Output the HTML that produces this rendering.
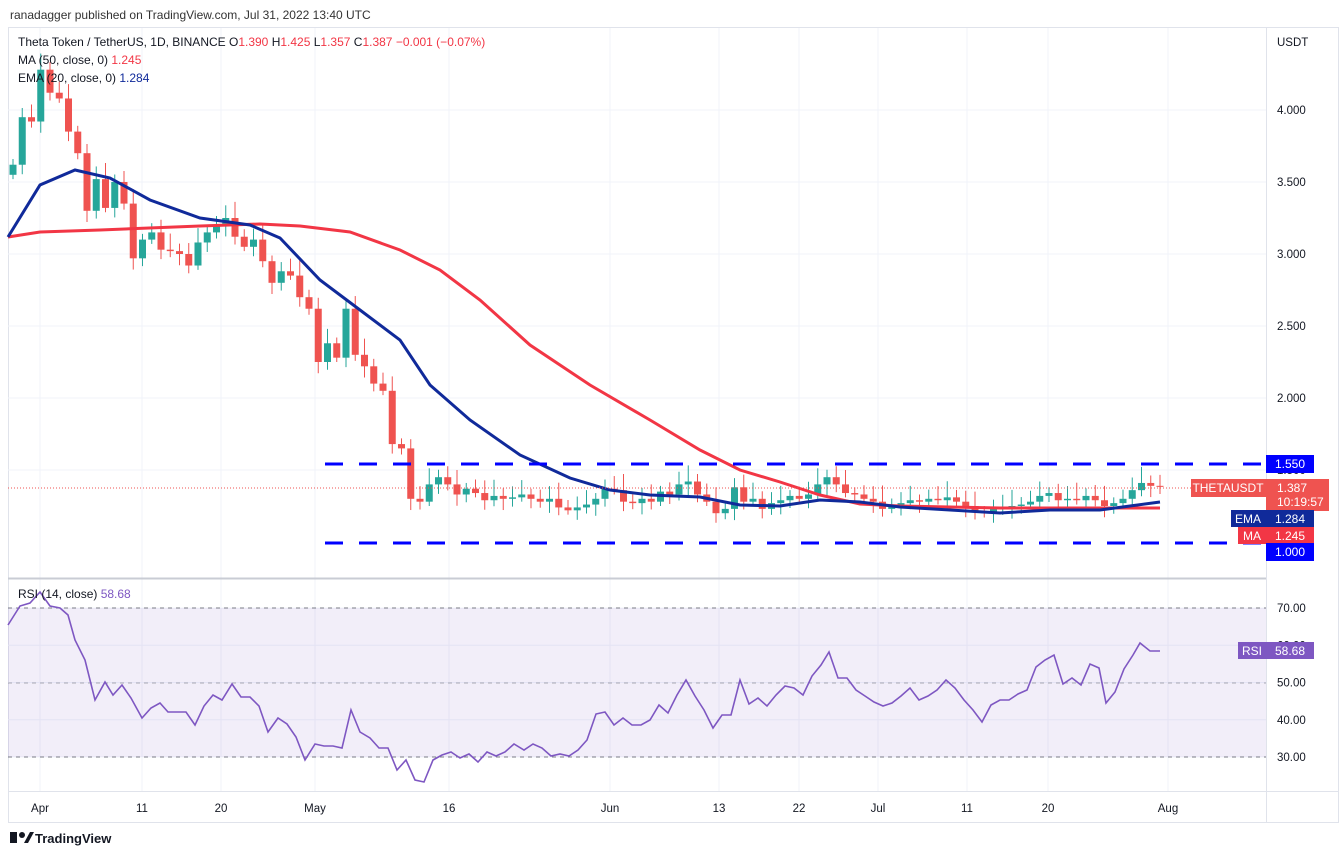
<!DOCTYPE html>
<html><head><meta charset="utf-8"><style>
body{margin:0;background:#fff;width:1344px;height:857px;overflow:hidden;font-family:"Liberation Sans",sans-serif}
svg text{font-family:"Liberation Sans",sans-serif}
</style></head><body>
<svg id="s" width="1344" height="857" xmlns="http://www.w3.org/2000/svg">
<rect x="0" y="0" width="1344" height="857" fill="#fff"/>
<text x="10" y="19" font-size="12" fill="#333">ranadagger published on TradingView.com, Jul 31, 2022 13:40 UTC</text>
<rect x="8.5" y="27.5" width="1330" height="795" fill="none" stroke="#e0e3eb"/>
<g id="grid"></g>
<rect x="8" y="608" width="1258" height="149" fill="#7e57c2" fill-opacity="0.1"/>
<line x1="8" x2="1266" y1="608" y2="608" stroke="#787b86" stroke-dasharray="4,4"/>
<line x1="8" x2="1266" y1="683" y2="683" stroke="#787b86" stroke-opacity="0.6" stroke-dasharray="4,4"/>
<line x1="8" x2="1266" y1="757" y2="757" stroke="#787b86" stroke-dasharray="4,4"/>
<line x1="8" x2="1266" y1="578.5" y2="578.5" stroke="#c9ccd4" stroke-width="2"/>
<line x1="1266.5" x2="1266.5" y1="28" y2="822" stroke="#e0e3eb"/>
<line x1="8" x2="1338" y1="791.5" y2="791.5" stroke="#e0e3eb"/>
<g id="candles"></g>
<polyline fill="none" stroke="#f23645" stroke-width="3" points="8,237 40,232 100,230 200,226 260,224 300,226 350,232 400,250 440,270 480,300 530,345 590,385 650,420 700,450 740,470 780,482 820,495 860,504 900,506 1000,508 1100,508 1160,508"/>
<polyline fill="none" stroke="#102a9a" stroke-width="3" points="8,237 40,185 75,170 110,178 150,200 200,218 250,225 280,238 320,280 360,310 400,340 430,385 470,420 520,455 570,478 610,490 650,495 700,497 740,505 780,506 820,500 860,502 900,507 950,510 1000,513 1050,510 1100,510 1130,506 1160,502"/>
<line x1="325" x2="1266" y1="464" y2="464" stroke="#0000ff" stroke-width="3" stroke-dasharray="18,16"/>
<line x1="325" x2="1266" y1="543" y2="543" stroke="#0000ff" stroke-width="3" stroke-dasharray="18,16"/>
<line x1="8" x2="1266" y1="488" y2="488" stroke="#ef5350" stroke-dasharray="1,2"/>
<polyline id="rsi" fill="none" stroke="#7e57c2" stroke-width="1.6" points="8,625 20,606 30,603 40,592 50,606 60,608 68,615 75,640 85,660 95,700 105,682 113,695 122,685 131,698 142,718 151,708 160,703 168,712 177,712 186,712 195,725 204,706 213,695 222,700 232,684 241,697 250,697 259,706 268,732 278,718 287,724 296,737 305,760 315,744 324,746 333,746 342,748 351,710 360,732 370,738 379,748 388,748 397,770 406,760 415,780 424,782 433,760 442,755 451,752 460,758 469,754 478,762 487,752 496,756 505,752 514,744 524,750 533,744 542,748 551,756 560,754 569,756 578,750 587,740 596,714 605,712 614,725 623,718 632,725 641,725 650,720 659,705 668,713 677,695 686,680 695,696 704,710 713,728 722,715 731,715 740,680 749,704 758,698 767,706 776,695 785,686 794,688 803,695 812,676 821,665 829,652 838,678 847,678 856,690 865,696 874,702 883,706 892,703 901,696 910,688 919,700 928,696 937,690 946,680 955,688 964,700 973,710 982,722 991,705 1000,700 1009,700 1018,694 1027,690 1036,667 1045,660 1054,655 1063,684 1072,678 1081,685 1090,664 1099,668 1106,703 1115,692 1124,669 1133,655 1140,643 1150,651 1160,651"/>
<g id="labels" font-size="11.5" fill="#131722"></g>
<text x="18" y="46" font-size="12" fill="#131722">Theta Token / TetherUS, 1D, BINANCE  O<tspan fill="#f23645">1.390</tspan>  H<tspan fill="#f23645">1.425</tspan>  L<tspan fill="#f23645">1.357</tspan>  C<tspan fill="#f23645">1.387</tspan>  <tspan fill="#f23645">−0.001 (−0.07%)</tspan></text>
<text x="18" y="64" font-size="12" fill="#131722">MA (50, close, 0)  <tspan fill="#f23645">1.245</tspan></text>
<text x="18" y="82" font-size="12" fill="#131722">EMA (20, close, 0)  <tspan fill="#102a9a">1.284</tspan></text>
<text x="18" y="598" font-size="12" fill="#131722">RSI (14, close)  <tspan fill="#7e57c2">58.68</tspan></text>
<text x="1277" y="46" font-size="11.5" fill="#131722">USDT</text>
<rect x="1266" y="455" width="48" height="18" fill="#0000ff"/><text x="1290" y="468" font-size="12" fill="#fff" text-anchor="middle">1.550</text>
<rect x="1191" y="479" width="75" height="18" fill="#ef5350"/><text x="1228" y="492" font-size="12" fill="#fff" text-anchor="middle">THETAUSDT</text>
<rect x="1266" y="479" width="63" height="32" fill="#ef5350"/><text x="1277" y="492" font-size="12" fill="#fff">1.387</text><text x="1277" y="506" font-size="12" fill="#fff">10:19:57</text>
<rect x="1231" y="510" width="35" height="17" fill="#102a9a"/><text x="1248" y="523" font-size="12" fill="#fff" text-anchor="middle">EMA</text>
<rect x="1266" y="510" width="48" height="17" fill="#102a9a"/><text x="1290" y="523" font-size="12" fill="#fff" text-anchor="middle">1.284</text>
<rect x="1238" y="527" width="28" height="17" fill="#f23645"/><text x="1252" y="540" font-size="12" fill="#fff" text-anchor="middle">MA</text>
<rect x="1266" y="527" width="48" height="17" fill="#f23645"/><text x="1290" y="540" font-size="12" fill="#fff" text-anchor="middle">1.245</text>
<rect x="1266" y="543" width="48" height="18" fill="#0000ff"/><text x="1290" y="556" font-size="12" fill="#fff" text-anchor="middle">1.000</text>
<rect x="1238" y="642" width="28" height="17" fill="#7e57c2"/><text x="1252" y="655" font-size="12" fill="#fff" text-anchor="middle">RSI</text>
<rect x="1266" y="642" width="48" height="17" fill="#7e57c2"/><text x="1290" y="655" font-size="12" fill="#fff" text-anchor="middle">58.68</text>
<g transform="translate(10,832)"><rect x="0" y="0" width="7" height="11" fill="#131722"/><circle cx="12" cy="3" r="3" fill="#131722"/><path d="M14 11 L20 0 L24 0 L18 11Z" fill="#131722"/></g>
<text x="35" y="843" font-size="13" fill="#131722" font-weight="bold">TradingView</text>
</svg>
<script>
var ns="http://www.w3.org/2000/svg";
function el(p,t,a,txt){var e=document.createElementNS(ns,t);for(var k in a)e.setAttribute(k,a[k]);if(txt!=null)e.textContent=txt;p.appendChild(e);return e;}
var g=document.getElementById('grid'),L=document.getElementById('labels'),C=document.getElementById('candles');
function py(p){return 254+(3-p)*144;}
[4,3.5,3,2.5,2,1.5].forEach(function(p){var y=py(p);el(g,'line',{x1:8,x2:1266,y1:y,y2:y,stroke:'#f0f3fa'});el(L,'text',{x:1277,y:y+4},p.toFixed(3));});
[70,60,50,40,30].forEach(function(r){var y=608+(70-r)*3.725;el(g,'line',{x1:8,x2:1266,y1:y,y2:y,stroke:'#f0f3fa'});el(L,'text',{x:1277,y:y+4},r.toFixed(2));});
[[40,'Apr'],[142,'11'],[221,'20'],[315,'May'],[449,'16'],[610,'Jun'],[719,'13'],[799,'22'],[878,'Jul'],[967,'11'],[1048,'20'],[1168,'Aug']].forEach(function(d){el(g,'line',{x1:d[0],x2:d[0],y1:28,y2:791,stroke:'#f0f3fa'});el(L,'text',{x:d[0],y:812,'text-anchor':'middle'},d[1]);});
var c=[3.62,3.95,3.92,4.28,4.12,4.08,3.85,3.70,3.30,3.52,3.32,3.50,3.35,2.97,3.10,3.15,3.03,3.02,3.00,2.92,3.08,3.15,3.20,3.25,3.12,3.05,3.10,2.95,2.80,2.88,2.85,2.70,2.62,2.25,2.38,2.28,2.62,2.30,2.22,2.10,2.05,1.68,1.65,1.30,1.28,1.40,1.45,1.40,1.33,1.37,1.34,1.29,1.32,1.30,1.31,1.33,1.30,1.28,1.30,1.24,1.22,1.24,1.26,1.30,1.37,1.36,1.28,1.27,1.30,1.28,1.35,1.33,1.40,1.42,1.33,1.28,1.20,1.23,1.38,1.28,1.30,1.23,1.27,1.29,1.32,1.30,1.33,1.40,1.45,1.40,1.34,1.33,1.30,1.28,1.23,1.25,1.27,1.29,1.28,1.30,1.29,1.31,1.28,1.25,1.21,1.20,1.23,1.24,1.25,1.26,1.28,1.32,1.34,1.29,1.30,1.29,1.32,1.29,1.25,1.27,1.30,1.36,1.41,1.39,1.387];
var o=3.55;
for(var i=0;i<c.length;i++){var x=13+i*9.25,cl=c[i],up=cl>=o,col=up?'#26a69a':'#ef5350';
var hi=Math.max(o,cl)+0.04+((i*37)%7)*0.012,lo=Math.min(o,cl)-0.03-((i*53)%5)*0.012;
el(C,'line',{x1:x,x2:x,y1:py(hi),y2:py(lo),stroke:col});
var y1=py(Math.max(o,cl)),y2=py(Math.min(o,cl));el(C,'rect',{x:x-3.5,y:y1,width:7,height:Math.max(1,y2-y1),fill:col});o=cl;}
</script>
</body></html>
